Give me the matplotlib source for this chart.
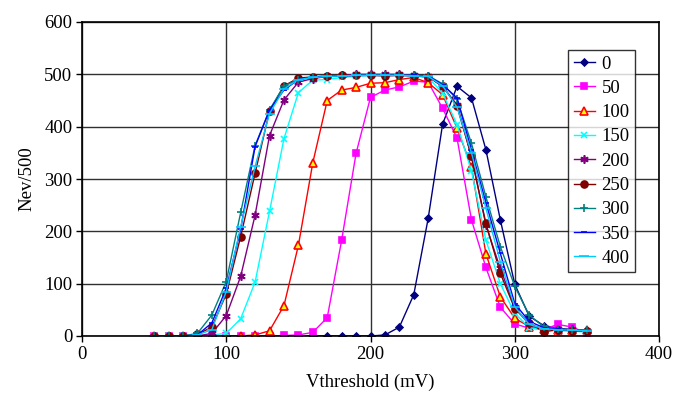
import numpy as np
import matplotlib
matplotlib.use("Agg")
import matplotlib.pyplot as plt

# ----------------------------------------
# Data (threshold scan, 10 mV steps)
# ----------------------------------------
vthr = list(range(50, 360, 10))

nev_0 = [0, 0, 0, 0, 0, 0, 0, 0, 0, 0, 0, 0, 0, 0, 0, 0,
         2, 17, 79, 225, 405, 477, 455, 356, 222, 99, 38, 20, 15, 12, 10]
nev_50 = [0, 0, 0, 0, 0, 0, 0, 0, 0, 1, 2, 7, 35, 183, 349,
          456, 470, 476, 487, 485, 435, 378, 222, 131, 55, 23, 15, 13, 22, 17, 5]
nev_100 = [0, 0, 0, 0, 0, 0, 0, 2, 10, 58, 173, 331, 450, 470, 475,
           483, 484, 490, 494, 484, 461, 397, 323, 157, 75, 34, 18, 13, 12, 12, 11]
nev_150 = [0, 0, 0, 0, 2, 5, 33, 103, 238, 377, 465, 489, 490, 494, 496,
           498, 498, 498, 497, 494, 464, 404, 315, 183, 100, 43, 16, 12, 10, 9, 8]
nev_200 = [0, 0, 0, 0, 5, 39, 114, 231, 383, 451, 485, 492, 496, 498, 500,
           500, 500, 500, 498, 496, 476, 442, 343, 212, 129, 55, 22, 14, 12, 13, 10]
nev_250 = [0, 0, 0, 3, 17, 80, 190, 311, 430, 478, 493, 495, 497, 498, 498,
           498, 497, 498, 497, 495, 478, 439, 343, 215, 120, 52, 25, 8, 12, 10, 9]
nev_300 = [0, 0, 0, 5, 40, 104, 236, 364, 432, 478, 490, 494, 496, 497, 498,
           499, 499, 499, 498, 497, 482, 452, 368, 266, 171, 95, 40, 18, 14, 12, 12]
nev_350 = [0, 0, 0, 2, 25, 91, 204, 362, 432, 470, 490, 495, 496, 497, 498,
           498, 498, 498, 498, 497, 480, 455, 355, 255, 158, 62, 28, 16, 13, 11, 10]
nev_400 = [0, 0, 0, 2, 12, 85, 209, 324, 425, 472, 490, 494, 496, 497, 498,
           498, 498, 498, 497, 496, 478, 437, 350, 244, 142, 56, 22, 14, 12, 11, 10]

labels = ['0', '50', '100', '150', '200', '250', '300', '350', '400']
series = [nev_0, nev_50, nev_100, nev_150, nev_200, nev_250, nev_300, nev_350, nev_400]

# colour, marker, marker size, face colour
styles = [
    ('#000080', 'D', 3.5, '#000080'),
    ('#FF00FF', 's', 5, '#FF00FF'),
    ('#FF0000', '^', 5.5, '#FFFF00'),
    ('#00FFFF', 'x', 5, '#00FFFF'),
    ('#800080', (6, 2, 0), 6, '#800080'),
    ('#800000', 'o', 5, '#800000'),
    ('#008080', '+', 6, '#008080'),
    ('#0000FF', '_', 5, '#0000FF'),
    ('#00CCFF', '_', 7, '#00CCFF'),
]

plt.rcParams['font.family'] = ['Liberation Serif', 'DejaVu Serif']

fig = plt.figure(figsize=(6.77, 3.94), dpi=100)
ax = fig.add_axes([82 / 677, 1 - 336 / 394, (659 - 82) / 677, (336 - 22) / 394])

for vals, lab, (col, mk, ms, fc) in zip(series, labels, styles):
    ax.plot(vthr, vals, color=col, linewidth=1.0, marker=mk, markersize=ms,
            markerfacecolor=fc, markeredgecolor=col, markeredgewidth=1.2,
            label=lab)

ax.set_xlim(0, 400)
ax.set_ylim(0, 600)
ax.set_xticks([0, 100, 200, 300, 400])
ax.set_yticks([0, 100, 200, 300, 400, 500, 600])
ax.grid(True, color='#303030', linewidth=1.0)
ax.set_axisbelow(True)
ax.tick_params(direction='out', length=4, width=1, labelsize=13.5, pad=3)
for sp in ax.spines.values():
    sp.set_linewidth(1.2)
    sp.set_color('black')

ax.set_xlabel("Vthreshold (mV)", fontsize=13.5, labelpad=8)
ax.set_ylabel("Nev/500", fontsize=13.5, labelpad=6)

leg = fig.legend(loc='upper left', bbox_to_anchor=(568 / 677, 1 - 50 / 394),
                 fontsize=13.4, frameon=True, fancybox=False, edgecolor='black',
                 handlelength=1.15, handletextpad=0.35, labelspacing=0.39,
                 borderpad=0.3, borderaxespad=0)
leg.get_frame().set_linewidth(1.0)

fig.savefig("out.png", dpi=100)
